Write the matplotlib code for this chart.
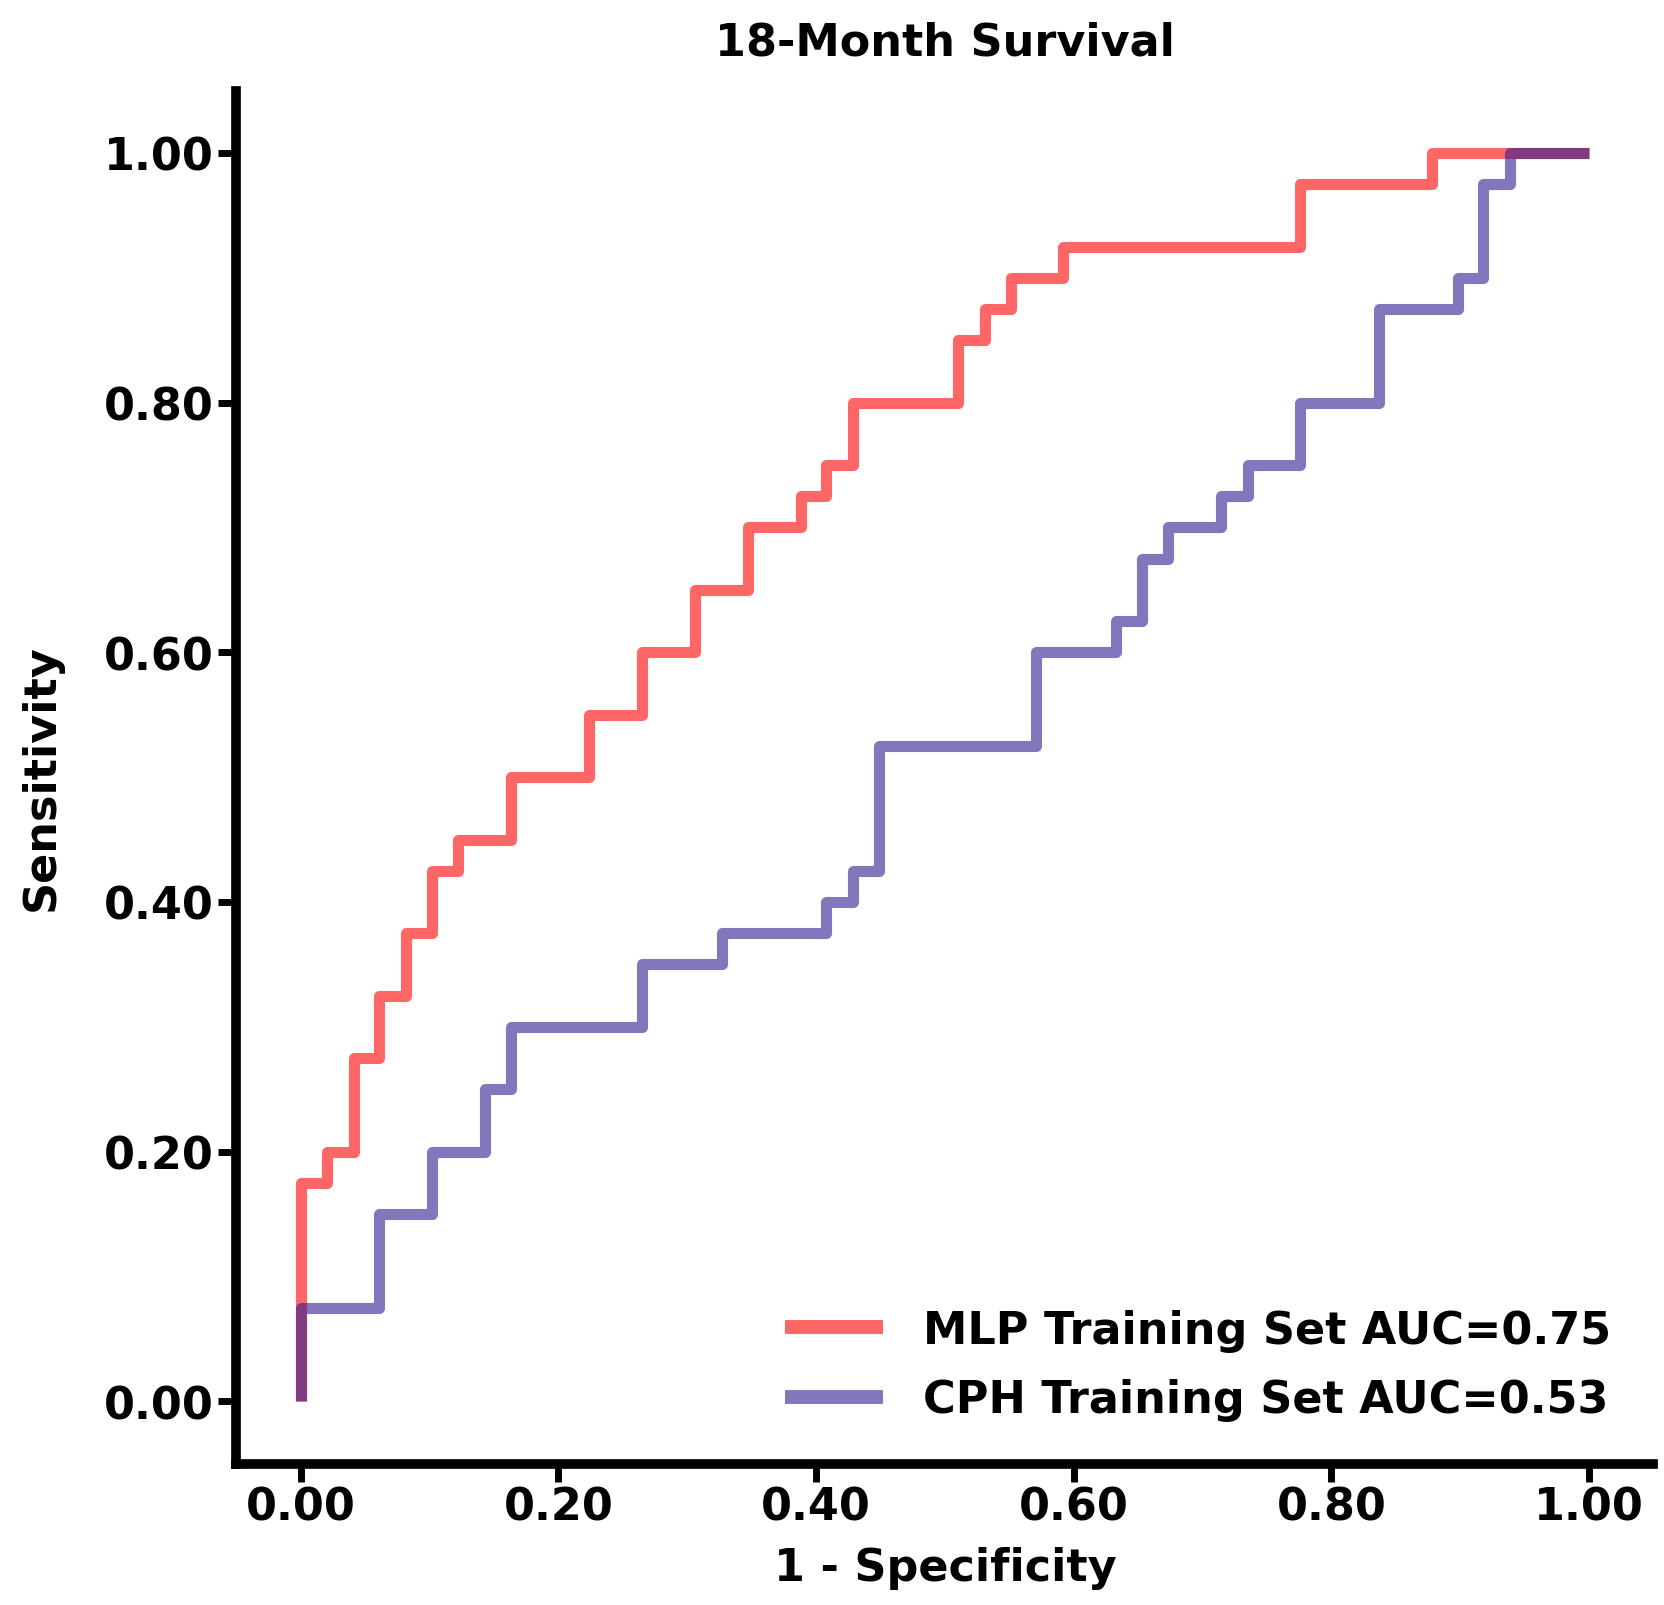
import matplotlib
matplotlib.use("Agg")
import matplotlib.pyplot as plt
from matplotlib.ticker import FormatStrFormatter

# ROC corner points (1 - specificity, sensitivity)
mlp_fpr = [0, 0, 0.020, 0.041, 0.061, 0.082, 0.102, 0.122, 0.163, 0.224, 0.265,
           0.306, 0.347, 0.388, 0.408, 0.429, 0.510, 0.531, 0.551, 0.592, 0.776,
           0.878, 1.0]
mlp_tpr = [0, 0.175, 0.200, 0.275, 0.325, 0.375, 0.425, 0.450, 0.500, 0.550, 0.600,
           0.650, 0.700, 0.725, 0.750, 0.800, 0.850, 0.875, 0.900, 0.925, 0.975,
           1.0, 1.0]

cph_fpr = [0, 0, 0.061, 0.102, 0.143, 0.163, 0.265, 0.327, 0.408, 0.429, 0.449,
           0.571, 0.633, 0.653, 0.673, 0.714, 0.735, 0.776, 0.837, 0.898, 0.918,
           0.939, 1.0]
cph_tpr = [0, 0.075, 0.150, 0.200, 0.250, 0.300, 0.350, 0.375, 0.400, 0.425, 0.525,
           0.600, 0.625, 0.675, 0.700, 0.725, 0.750, 0.800, 0.875, 0.900, 0.975,
           1.0, 1.0]

mlp_label = "MLP Training Set AUC=0.75"
cph_label = "CPH Training Set AUC=0.53"
ticks = [0.0, 0.2, 0.4, 0.6, 0.8, 1.0]

plt.rcParams["font.family"] = ["DejaVu Sans"]
plt.rcParams["font.weight"] = "bold"

fig = plt.figure(figsize=(16.65, 16.06), dpi=100)
ax = fig.add_axes([0.142, 0.088, 0.851, 0.855])

ax.step(mlp_fpr, mlp_tpr, where="post", color="red", alpha=0.6, linewidth=8,
        solid_joinstyle="round", solid_capstyle="butt", label=mlp_label)
ax.step(cph_fpr, cph_tpr, where="post", color="#2f1d92", alpha=0.6, linewidth=8,
        solid_joinstyle="round", solid_capstyle="butt", label=cph_label)

ax.set_xlim(-0.05, 1.05)
ax.set_ylim(-0.05, 1.05)
ax.set_xticks(ticks)
ax.set_yticks(ticks)
ax.xaxis.set_major_formatter(FormatStrFormatter("%.2f"))
ax.yaxis.set_major_formatter(FormatStrFormatter("%.2f"))

for side in ["top", "right"]:
    ax.spines[side].set_visible(False)
for side in ["left", "bottom"]:
    ax.spines[side].set_linewidth(7)

ax.tick_params(axis="both", direction="out", length=13, width=5, labelsize=32, pad=3)
for lab in ax.get_xticklabels() + ax.get_yticklabels():
    lab.set_fontweight("bold")

ax.set_xlabel("1 - Specificity", fontsize=32, fontweight="bold", labelpad=12)
ax.set_ylabel("Sensitivity", fontsize=32, fontweight="bold", labelpad=30)
ax.set_title("18-Month Survival", fontsize=32, fontweight="bold", pad=26)

leg = ax.legend(loc="lower right", frameon=False, fontsize=32, handlelength=2.2,
                handletextpad=0.9, labelspacing=0.6, borderaxespad=0.55)
for line in leg.get_lines():
    line.set_linewidth(10)

fig.savefig("out.png", dpi=100)
